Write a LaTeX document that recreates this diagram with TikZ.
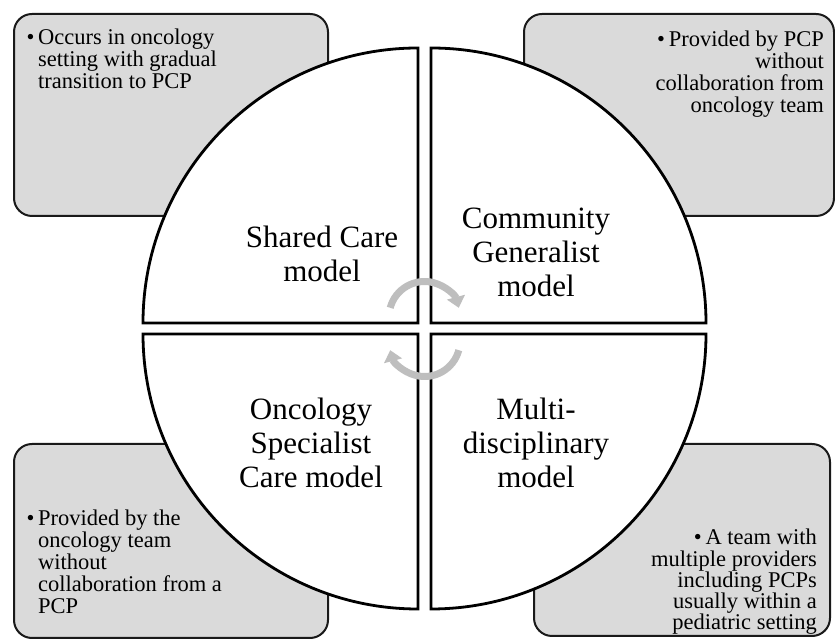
\documentclass[tikz,border=0pt]{standalone}
\usepackage{fontspec}
\setmainfont{Liberation Serif}
\usepackage{tikz}
\usetikzlibrary{positioning, arrows.meta}
\definecolor{NoteGray}{RGB}{218,218,218}
\definecolor{CycleGray}{RGB}{190,190,190}

\begin{document}
\begin{tikzpicture}[
  x=1pt, y=1pt,
  every node/.style={inner sep=0pt},
  note/.style={
    rectangle, rounded corners=18pt, draw=black!90, line width=2pt,
    fill=NoteGray, anchor=north west
  },
  notetext/.style={font=\fontsize{22.5}{22}\selectfont},
  sector/.style={draw=black, line width=2.8pt, fill=white, line join=miter},
  model/.style={align=center, font=\fontsize{31}{34}\selectfont},
  cyc/.style={draw=CycleGray, line width=7pt, -{Triangle[length=11pt, width=18pt]}}
]
\useasboundingbox (0,0) rectangle (835,639);

% ================ grey note boxes ================
\node[note, minimum width=314pt, minimum height=202pt] (boxShared) at (13,626) {};
\node[note, minimum width=310pt, minimum height=202pt] (boxCommunity) at (523,626) {};
\node[note, minimum width=314pt, minimum height=194pt] (boxOncology) at (13,196) {};
\node[note, minimum width=296pt, minimum height=192pt] (boxMulti) at (533,196) {};

\node[notetext, align=left, anchor=north west] (noteShared)
  at ([xshift=25pt, yshift=-16pt]boxShared.north west)
  {\llap{\textbullet\,}Occurs in oncology\\setting with gradual\\transition to PCP};
\node[notetext, align=right, anchor=north east] (noteCommunity)
  at ([xshift=-11pt, yshift=-18pt]boxCommunity.north east)
  {\textbullet\,Provided by PCP\\without\\collaboration from\\oncology team};
\node[notetext, align=left, anchor=north west] (noteOncology)
  at ([xshift=25pt, yshift=-67pt]boxOncology.north west)
  {\llap{\textbullet\,}Provided by the\\oncology team\\without\\collaboration from a\\PCP};
\node[notetext, align=right, anchor=north east, font=\fontsize{22.5}{21.2}\selectfont] (noteMulti)
  at ([xshift=-14pt, yshift=-86pt]boxMulti.north east)
  {\textbullet\,A team with\\multiple providers\\including PCPs\\usually within a\\pediatric setting};

% ================ four quarter sectors ================
\coordinate (cShared) at (418,316);
\coordinate (cCommunity) at (431,316);
\coordinate (cOncology) at (418,305);
\coordinate (cMulti) at (431,305);

\draw[sector] (cShared) -- ++(-275,0) arc[start angle=180, end angle=90, radius=275] -- cycle;
\draw[sector] (cCommunity) -- ++(0,275) arc[start angle=90, end angle=0, radius=275] -- cycle;
\draw[sector] (cOncology) -- ++(0,-275) arc[start angle=270, end angle=180, radius=275] -- cycle;
\draw[sector] (cMulti) -- ++(275,0) arc[start angle=0, end angle=-90, radius=275] -- cycle;

\node[model] (lblShared) at (322,385) {Shared Care\\model};
\node[model] (lblCommunity) at (536,387) {Community\\Generalist\\model};
\node[model] (lblOncology) at (311,196) {Oncology\\Specialist\\Care model};
\node[model] (lblMulti) at (536,196) {Multi-\\disciplinary\\model};

% ================ cycle arrows in the middle ================
\coordinate (hubTop) at (424.5,322);
\coordinate (hubBot) at (424.5,298);
\draw[cyc] ([shift={(165:35.5)}]hubTop) arc[start angle=165, end angle=15, radius=35.5];
\draw[cyc] ([shift={(-15:35.5)}]hubBot) arc[start angle=-15, end angle=-165, radius=35.5];
\end{tikzpicture}
\end{document}
